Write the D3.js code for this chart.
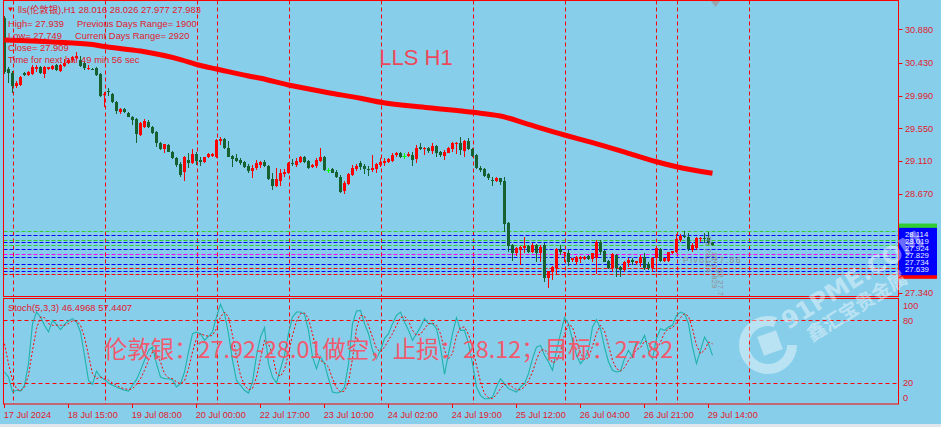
<!DOCTYPE html>
<html><head><meta charset="utf-8">
<script src="https://cdn.jsdelivr.net/npm/d3@7/dist/d3.min.js"></script>
<style>html,body{margin:0;padding:0;background:#87ceeb;}svg{display:block;}</style>
</head><body><div id="chart"></div>
<script>
// ---------- DATA ----------
const open = [31.031,30.347,30.293,30.119,30.132,30.293,30.266,30.280,30.347,30.374,
30.280,30.347,30.347,30.401,30.320,30.387,30.427,30.468,30.494,30.468,
30.427,30.347,30.347,30.360,30.280,30.005,30.051,30.011,29.904,29.770,
29.810,29.756,29.702,29.676,29.461,29.568,29.635,29.568,29.501,29.354,
29.273,29.327,29.233,29.152,29.072,28.964,29.125,29.085,29.206,29.125,
29.098,29.166,29.179,29.166,29.380,29.407,29.286,29.179,29.152,29.125,
29.098,29.045,28.978,29.018,29.058,29.098,29.045,28.870,28.776,28.843,
28.937,28.951,29.085,29.058,29.098,29.166,29.112,29.031,29.045,29.112,
29.166,28.991,29.005,28.964,28.897,28.709,28.803,28.924,29.005,29.085,
29.045,29.005,28.991,29.005,29.058,29.085,29.098,29.112,29.192,29.219,
29.179,29.179,29.192,29.139,29.300,29.273,29.286,29.246,29.313,29.233,
29.179,29.219,29.273,29.340,29.354,29.246,29.380,29.273,29.192,29.018,
29.005,28.937,28.857,28.843,28.884,28.843,28.280,27.984,27.877,27.917,
27.944,27.971,27.890,27.984,27.877,27.984,27.542,27.622,27.676,27.931,
27.877,27.877,27.783,27.756,27.796,27.796,27.837,27.796,27.810,28.025,
27.904,27.770,27.676,27.850,27.689,27.649,27.743,27.783,27.743,27.743,
27.823,27.729,27.676,27.810,27.931,27.770,27.770,27.877,27.890,28.052,
28.105,28.092,27.917,27.944,28.065,28.078,28.078,28.016];
const high = [31.058,30.374,30.320,30.186,30.253,30.307,30.320,30.401,30.401,30.387,
30.387,30.374,30.401,30.414,30.414,30.481,30.494,30.521,30.575,30.521,
30.441,30.401,30.360,30.374,30.293,30.038,30.092,30.025,29.917,29.823,
29.823,29.770,29.716,29.689,29.635,29.676,29.662,29.582,29.515,29.367,
29.340,29.340,29.246,29.166,29.098,29.179,29.219,29.273,29.233,29.166,
29.166,29.219,29.219,29.407,29.434,29.421,29.380,29.192,29.206,29.152,
29.112,29.072,29.058,29.125,29.112,29.125,29.058,28.951,29.018,29.005,
29.005,29.098,29.139,29.152,29.179,29.179,29.125,29.072,29.152,29.286,
29.179,29.018,29.018,28.991,28.924,28.843,28.951,29.058,29.072,29.112,
29.072,29.045,29.192,29.085,29.152,29.152,29.152,29.219,29.233,29.233,
29.219,29.233,29.233,29.327,29.354,29.300,29.300,29.354,29.327,29.246,
29.260,29.300,29.367,29.367,29.434,29.394,29.421,29.286,29.206,29.045,
29.018,28.951,28.897,28.897,28.884,28.897,28.293,27.998,27.958,27.971,
28.092,27.984,28.011,27.998,27.984,28.011,27.635,27.703,27.944,27.984,
27.890,27.917,27.810,27.837,27.837,27.837,27.850,27.877,28.052,28.052,
27.917,27.783,27.877,27.864,27.703,27.770,27.810,27.810,27.770,27.850,
27.877,27.756,27.823,27.944,27.944,27.810,27.890,27.904,28.132,28.132,
28.172,28.145,28.011,28.092,28.092,28.145,28.159,28.026];
const low = [30.280,30.159,30.025,30.092,30.119,30.253,30.253,30.266,30.307,30.280,
30.226,30.333,30.333,30.320,30.307,30.374,30.414,30.441,30.468,30.374,
30.333,30.333,30.333,30.253,29.971,29.837,29.984,29.890,29.743,29.743,
29.756,29.702,29.595,29.354,29.447,29.555,29.555,29.474,29.300,29.260,
29.219,29.233,29.139,29.031,28.897,28.843,29.018,29.072,29.058,29.045,
29.085,29.152,29.166,29.152,29.327,29.273,29.166,29.031,29.098,29.058,
29.018,28.951,28.884,28.991,29.018,29.031,28.857,28.723,28.763,28.776,
28.897,28.937,29.045,29.031,29.085,29.085,29.005,29.018,29.018,29.098,
28.978,28.951,28.951,28.884,28.682,28.669,28.790,28.911,28.978,28.991,
28.937,28.911,28.964,28.951,29.031,29.045,29.085,29.098,29.166,29.152,
29.139,29.166,29.045,29.085,29.260,29.192,29.219,29.206,29.166,29.166,
29.125,29.219,29.233,29.206,29.192,29.166,29.260,29.166,29.005,28.964,
28.897,28.857,28.776,28.830,28.790,28.159,27.890,27.770,27.837,27.716,
27.877,27.877,27.877,27.756,27.756,27.488,27.407,27.515,27.582,27.850,
27.756,27.703,27.756,27.716,27.743,27.783,27.783,27.756,27.595,27.850,
27.756,27.662,27.622,27.555,27.555,27.622,27.689,27.716,27.716,27.689,
27.649,27.649,27.622,27.622,27.756,27.756,27.756,27.864,27.877,28.025,
28.078,27.904,27.890,27.917,28.025,28.011,27.984,27.977];
const close = [30.307,30.293,30.119,30.159,30.239,30.266,30.307,30.374,30.374,30.293,
30.374,30.374,30.387,30.333,30.401,30.427,30.468,30.508,30.521,30.387,
30.360,30.360,30.340,30.266,29.984,30.011,30.038,29.904,29.783,29.810,
29.770,29.702,29.662,29.474,29.622,29.649,29.568,29.488,29.354,29.273,
29.340,29.233,29.152,29.058,28.924,29.166,29.085,29.206,29.112,29.098,
29.166,29.206,29.206,29.394,29.407,29.286,29.166,29.139,29.112,29.085,
29.031,28.978,29.018,29.085,29.098,29.045,28.870,28.776,28.870,28.951,
28.964,29.085,29.072,29.112,29.166,29.098,29.018,29.058,29.125,29.166,
28.991,28.991,28.951,28.897,28.696,28.817,28.937,29.018,29.045,29.031,
29.005,28.991,29.018,29.072,29.098,29.112,29.139,29.192,29.219,29.166,
29.179,29.206,29.125,29.286,29.273,29.286,29.246,29.313,29.219,29.192,
29.233,29.286,29.354,29.354,29.260,29.380,29.273,29.179,29.018,28.991,
28.911,28.884,28.850,28.884,28.830,28.266,27.971,27.877,27.944,27.958,
27.971,27.890,27.984,27.877,27.958,27.542,27.635,27.689,27.931,27.890,
27.890,27.756,27.810,27.823,27.823,27.823,27.796,27.877,28.025,27.890,
27.756,27.676,27.864,27.676,27.649,27.756,27.783,27.756,27.770,27.823,
27.676,27.676,27.810,27.944,27.770,27.810,27.890,27.904,28.065,28.105,
28.092,27.931,27.984,28.078,28.078,28.065,28.016,27.983];

// moving average read at selected bars
const maBar = [0,12,22,25,34,44,49,53,61,64,71,81,89,94,106,117,124,131,140,147,156,163,168,177];
const maVal = [30.736,30.709,30.676,30.649,30.588,30.474,30.394,30.347,30.253,30.222,30.132,30.029,29.954,29.900,29.827,29.766,29.716,29.604,29.461,29.358,29.215,29.102,29.035,28.947];

// stochastic (5,3,3)
const stochK = [30.5,25.7,11.4,13.0,12.3,17.8,38.5,76.8,87.9,83.2,
75.2,68.8,80.0,76.1,71.0,76.1,79.3,81.6,78.4,68.8,
46.5,22.6,18.7,31.5,25.7,23.2,20.0,17.8,16.2,14.6,
13.0,12.3,17.8,23.2,32.1,41.7,51.3,54.4,38.5,25.7,
24.1,24.1,23.2,16.2,19.4,30.5,49.7,67.2,68.8,67.2,
60.8,64.7,68.8,83.2,95.3,86.4,67.2,41.7,22.6,17.8,
13.0,10.4,21.0,46.5,64.0,72.9,38.5,25.7,20.0,33.7,
46.5,67.2,83.2,87.9,87.9,85.7,70.4,44.9,33.7,45.5,
38.5,24.1,11.4,10.4,11.4,16.2,38.5,76.8,88.9,89.5,
76.8,67.2,51.3,43.3,51.3,62.5,67.2,76.8,84.8,87.9,
78.4,70.4,60.8,67.2,73.6,81.6,76.8,76.8,72.0,54.4,
28.3,48.1,67.2,82.5,70.4,70.4,57.6,38.5,16.2,8.2,
5.0,5.0,6.6,16.2,24.1,19.4,14.6,13.0,11.4,16.2,
19.4,28.9,43.3,54.4,56.0,46.5,40.1,32.1,51.3,67.2,
82.5,76.8,60.8,46.5,38.5,43.3,51.3,73.6,80.6,72.0,
54.4,40.1,32.1,30.5,31.5,43.3,51.3,44.9,59.2,57.6,
65.6,51.3,43.3,62.5,72.0,70.4,73.6,75.2,84.8,87.9,
86.4,76.8,54.4,38.5,51.3,64.0,57.6,46.4968];
const stochD = [57.6,38.5,22.6,14.6,12.3,16.2,27.3,51.3,72.0,83.2,
82.5,76.8,75.2,75.2,75.2,75.2,76.8,79.3,79.3,75.2,
64.0,46.5,28.9,24.1,25.7,24.1,22.6,20.0,17.8,15.5,
14.6,13.6,14.6,18.7,24.1,32.1,41.7,49.7,48.1,40.1,
28.9,25.1,24.1,21.0,19.4,21.9,33.7,49.7,62.5,67.2,
65.6,64.7,65.6,72.0,83.2,87.9,83.2,65.6,44.9,27.3,
17.8,13.6,14.6,25.7,43.3,60.8,57.6,46.5,28.9,26.4,
32.8,48.1,65.6,79.3,86.4,87.0,81.6,67.2,49.7,41.7,
39.1,35.3,24.1,15.5,11.4,12.3,21.0,43.3,72.0,84.8,
83.8,75.2,64.0,52.9,49.7,54.4,60.8,67.2,75.2,82.5,
83.8,79.3,70.4,65.6,66.6,72.0,76.8,77.4,75.2,67.2,
51.3,43.3,48.1,65.6,72.9,73.6,66.6,54.4,36.9,21.0,
9.8,6.0,5.0,9.1,14.6,18.7,18.7,16.2,13.6,13.6,
16.2,21.9,30.5,42.3,51.3,51.9,47.5,39.1,41.1,49.7,
66.6,76.1,73.6,61.5,48.1,42.3,44.2,55.1,67.8,75.2,
69.8,56.0,41.7,33.7,31.5,34.7,41.7,46.5,51.9,53.8,
60.2,58.3,52.9,51.9,59.2,67.8,72.0,72.9,77.4,82.5,
86.4,83.8,72.0,56.0,48.1,51.3,59.2,57.4407];

const priceTicks = [30.880,30.430,29.990,29.550,29.110,28.670,27.340];
const timeBars = [0,16,32,48,64,80,96,112,128,144,160,176];
const timeLabels = ["17 Jul 2024","18 Jul 15:00","19 Jul 08:00","20 Jul 00:00","22 Jul 17:00","23 Jul 10:00","24 Jul 02:00","24 Jul 19:00","25 Jul 12:00","26 Jul 04:00","26 Jul 21:00","29 Jul 14:00"];
const gridBars = [2,25,48,71,94,117,140,163,186];
const sepBars = [53,168];
const levelBlue = [28.114,28.019,27.924,27.829,27.734,27.639];
const levelGreen = [28.172,28.052,27.982];
const levelMagenta = [27.860];
const levelRed = [27.672,27.591];
const stochLevels = [80,20];
const stochAxis = [100,80,20,0];

// ---------- DRAW ----------
const W = 941, H = 427;
const C = {bg:"#87ceeb", red:"#ff0000", bull:"#ff0000", bear:"#17602f", doji:"#00ff00",
  text:"#e0202e", teal:"#20b2aa", blue:"#0000ff", green:"#32cd32", magenta:"#ff00ff"};
const F = "'Liberation Sans', Arial, sans-serif";
const svg = d3.select("#chart").append("svg").attr("width", W).attr("height", H);
svg.append("rect").attr("width", W).attr("height", H).attr("fill", C.bg);
svg.append("rect").attr("x",0).attr("y",424).attr("width",W).attr("height",3).attr("fill","#dfe5ea");

const L = 3.5, R = 898.5, mTop = 0.5, mBot = 296.5, sTop = 298.5, sBot = 404;
const x = d3.scaleLinear().domain([0,177]).range([4.5,712.5]);
const yP = d3.scaleLinear().domain([27.340,30.880]).range([293.0,29.3]);
const yS = d3.scaleLinear().domain([0,100]).range([403.9,299.4]);

const defs = svg.append("defs");
defs.append("clipPath").attr("id","cm").append("rect").attr("x",L).attr("y",mTop).attr("width",R-L).attr("height",mBot-mTop);
defs.append("clipPath").attr("id","cs").append("rect").attr("x",L).attr("y",sTop).attr("width",R-L).attr("height",sBot-sTop);

const gm = svg.append("g").attr("clip-path","url(#cm)");
const gs = svg.append("g").attr("clip-path","url(#cs)");

// vertical grid & separators
[gm, gs].forEach((g,k) => {
  const y0 = k===0 ? mTop : sTop, y1 = k===0 ? mBot : sBot;
  g.selectAll(null).data(gridBars.concat(sepBars)).enter().append("line")
    .attr("x1", d => Math.round(x(d))+0.5).attr("x2", d => Math.round(x(d))+0.5)
    .attr("y1", y0).attr("y2", y1)
    .attr("stroke", C.red).attr("stroke-width",1).attr("stroke-dasharray","4,3");
});

// horizontal level lines
const levels = [].concat(
  levelGreen.map(v=>({v,c:C.green})), levelBlue.map(v=>({v,c:C.blue})),
  levelMagenta.map(v=>({v,c:C.magenta})), levelRed.map(v=>({v,c:C.red})));
gm.selectAll(null).data(levels).enter().append("line")
  .attr("x1",L).attr("x2",R)
  .attr("y1", d => Math.round(yP(d.v))+0.5).attr("y2", d => Math.round(yP(d.v))+0.5)
  .attr("stroke", d=>d.c).attr("stroke-width",1).attr("stroke-dasharray","4,2");

// candles
const bars = d3.range(open.length).map(i => ({i,o:open[i],h:high[i],l:low[i],c:close[i]}));
const colOf = d => d.c > d.o ? C.bull : (d.c < d.o ? C.bear : C.doji);
const cg = gm.append("g");
cg.selectAll(".wick").data(bars).enter().append("line")
  .attr("x1", d=>x(d.i)).attr("x2", d=>x(d.i))
  .attr("y1", d=>yP(d.h)).attr("y2", d=>yP(d.l))
  .attr("stroke", colOf).attr("stroke-width",1);
cg.selectAll(".body").data(bars.filter(d=>d.o!==d.c)).enter().append("rect")
  .attr("x", d=>x(d.i)-1.5).attr("width",3)
  .attr("y", d=>Math.min(yP(d.o),yP(d.c)))
  .attr("height", d=>Math.max(1, Math.abs(yP(d.o)-yP(d.c))))
  .attr("fill", colOf);
cg.selectAll(".doji").data(bars.filter(d=>d.o===d.c)).enter().append("line")
  .attr("x1", d=>x(d.i)-2).attr("x2", d=>x(d.i)+2)
  .attr("y1", d=>Math.round(yP(d.o))+0.5).attr("y2", d=>Math.round(yP(d.o))+0.5)
  .attr("stroke", C.doji).attr("stroke-width",1);

// moving average
const maLine = d3.line().x(d=>x(d[0])).y(d=>yP(d[1])).curve(d3.curveMonotoneX);
gm.append("path").datum(maBar.map((b,i)=>[b,maVal[i]]))
  .attr("d", maLine).attr("fill","none").attr("stroke",C.red).attr("stroke-width",5);

// grey pivot labels
gm.append("text").attr("x",683).attr("y",263).attr("font-family",F).attr("font-size",8.5)
  .attr("fill","#8f8f8f").attr("letter-spacing",1.5).text("Pivot 27.86");
[[706,"R1 28.114"],[712,"S1 27.829"],[718,"S2 27.734"]].forEach((t,k) => {
  gm.append("text").attr("transform",`translate(${t[0]},${236+k*16}) rotate(90)`)
    .attr("font-family",F).attr("font-size",8).attr("fill","#8f8f8f").text(t[1]);
});

// top-right shift marker
svg.append("path").attr("d","M710,0 L721,0 L715.5,7 Z").attr("fill","#9aa4ad");

// stoch levels & lines
gs.selectAll(null).data(stochLevels).enter().append("line")
  .attr("x1",L).attr("x2",R)
  .attr("y1", d=>Math.round(yS(d))+0.5).attr("y2", d=>Math.round(yS(d))+0.5)
  .attr("stroke",C.red).attr("stroke-width",1).attr("stroke-dasharray","4,3");
const sLine = d3.line().x((d,i)=>x(i)).y(d=>yS(d));
gs.append("path").datum(stochK).attr("d",sLine).attr("fill","none").attr("stroke",C.teal).attr("stroke-width",1.1);
gs.append("path").datum(stochD).attr("d",sLine).attr("fill","none").attr("stroke",C.red).attr("stroke-width",1).attr("stroke-dasharray","2,2");

// panel borders
svg.append("rect").attr("x",L).attr("y",mTop).attr("width",R-L).attr("height",mBot-mTop)
  .attr("fill","none").attr("stroke",C.red).attr("stroke-width",1);
svg.append("rect").attr("x",L).attr("y",sTop).attr("width",R-L).attr("height",sBot-sTop)
  .attr("fill","none").attr("stroke",C.red).attr("stroke-width",1);

// right price axis
const ax = svg.append("g");
ax.selectAll(null).data(priceTicks).enter().append("line")
  .attr("x1",R).attr("x2",R+4).attr("y1",d=>Math.round(yP(d))+0.5).attr("y2",d=>Math.round(yP(d))+0.5)
  .attr("stroke",C.red);
ax.selectAll(null).data(priceTicks).enter().append("text")
  .attr("x",905).attr("y",d=>yP(d)+3.3).attr("font-family",F).attr("font-size",9.2)
  .attr("fill",C.text).text(d=>d.toFixed(3));

// right level labels (coloured boxes; blue ones on top)
const lab = svg.append("g");
const others = levelGreen.map(v=>({v,c:C.green})).concat(levelMagenta.map(v=>({v,c:C.magenta})), levelRed.map(v=>({v,c:C.red})));
others.forEach(d => {
  lab.append("rect").attr("x",R+0.5).attr("y",yP(d.v)-7.5).attr("width",38).attr("height",12).attr("fill",d.c);
});
levelBlue.forEach(v => {
  lab.append("rect").attr("x",R+0.5).attr("y",yP(v)-7.5).attr("width",38).attr("height",12).attr("fill",C.blue);
});
levelBlue.forEach(v => {
  lab.append("text").attr("x",905).attr("y",yP(v)+1.2).attr("font-family",F).attr("font-size",7.8)
    .attr("fill","#e8eeff").text(v.toFixed(3));
});

// stoch axis
svg.selectAll(null).data(stochAxis).enter().append("text")
  .attr("x",903).attr("y",d=> d===100 ? 308.5 : d===0 ? 400.5 : yS(d)+3.3)
  .attr("font-family",F).attr("font-size",9.2).attr("fill",C.text).text(d=>d);

// time axis
const tg = svg.append("g");
tg.selectAll(null).data(timeBars).enter().append("line")
  .attr("x1",d=>x(d)).attr("x2",d=>x(d)).attr("y1",sBot).attr("y2",sBot+4).attr("stroke",C.red);
tg.selectAll(null).data(timeBars).enter().append("text")
  .attr("x",d=>x(d)-0.8).attr("y",417.5).attr("font-family",F).attr("font-size",9.2)
  .attr("fill",C.text).text((d,i)=>timeLabels[i]);

// header texts
svg.append("path").attr("d","M8,7.5 L13,7.5 L10.5,11.5 Z").attr("fill",C.red);
const info = [
  [18,13.2,"lls(伦敦银),H1  28.016 28.026 27.977 27.983"],
  [8,26.5,"High= 27.939"],[77,26.5,"Previous Days Range= 1900"],
  [8,38.5,"Low= 27.749"],[75,38.5,"Current Days Range= 2920"],
  [8,50.5,"Close= 27.909"],
  [8,62.5,"Time for next bar 49 min 56 sec"],
  [8,310.5,"Stoch(5,3,3) 46.4968 57.4407"]
];
svg.selectAll(null).data(info).enter().append("text")
  .attr("x",d=>d[0]).attr("y",d=>d[1]).attr("font-family",F+", 'Noto Sans CJK SC'")
  .attr("font-size",9.4).attr("fill",C.text).text(d=>d[2]);

// big annotation texts
svg.append("text").attr("x",416).attr("y",65).attr("text-anchor","middle")
  .attr("font-family",F).attr("font-size",22).attr("fill","#ec4a5c").text("LLS H1");
svg.append("text").attr("x",104).attr("y",358).attr("font-family","'Noto Sans CJK SC', sans-serif")
  .attr("font-size",23.4).attr("fill","#ef5a6e").text("伦敦银：27.92-28.01做空，止损：28.12；目标：27.82");

// watermark
const wm = svg.append("g").attr("opacity",0.42);
wm.append("circle").attr("cx",768).attr("cy",345).attr("r",24).attr("fill","none")
  .attr("stroke","#ffffff").attr("stroke-width",10).attr("stroke-dasharray","120,31");
wm.append("rect").attr("x",-10).attr("y",-10).attr("width",20).attr("height",20)
  .attr("transform","translate(770,343) rotate(-20)").attr("fill","#ffffff");
const wt = wm.append("g").attr("transform","translate(788,330) rotate(-32)");
wt.append("text").attr("x",0).attr("y",0).attr("font-family","'DejaVu Sans', sans-serif")
  .attr("font-weight","bold").attr("font-size",24).attr("fill","#ffffff").text("91PME.COM");
wt.append("text").attr("x",14).attr("y",23).attr("font-family","'Noto Sans CJK SC', sans-serif")
  .attr("font-weight","bold").attr("font-size",19).attr("fill","#ffffff").text("鑫汇宝贵金属");
</script>
</body></html>
